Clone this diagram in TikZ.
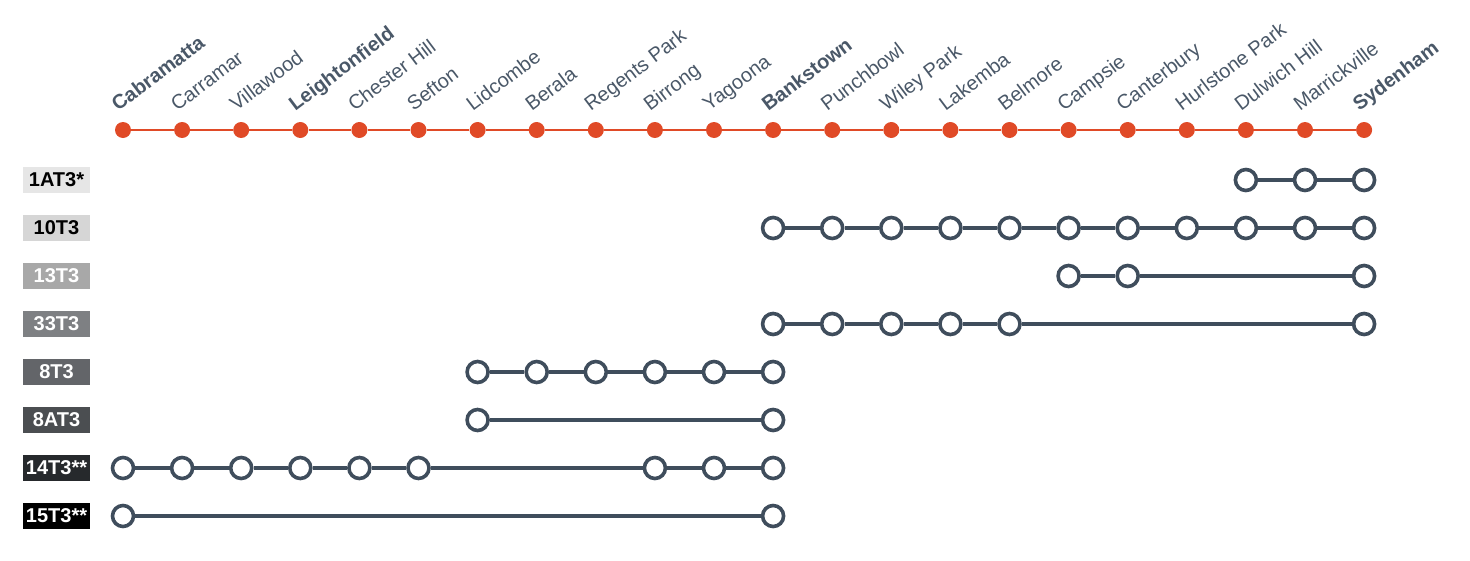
\documentclass[tikz,border=0pt]{standalone}
\usepackage{fontspec}
\setmainfont{Liberation Sans}
\definecolor{lineorange}{HTML}{E04A27}
\definecolor{slate}{HTML}{3F4D5C}
\definecolor{labslate}{HTML}{4A5868}
\definecolor{c1}{HTML}{E6E6E6}
\definecolor{c2}{HTML}{D6D6D6}
\definecolor{c3}{HTML}{A8A8A8}
\definecolor{c4}{HTML}{7E8083}
\definecolor{c5}{HTML}{636569}
\definecolor{c6}{HTML}{4B4E51}
\definecolor{c7}{HTML}{26292C}
\definecolor{c8}{HTML}{000000}
\begin{document}
\begin{tikzpicture}[x=1pt,y=-1pt,
  dotnode/.style={circle,fill=lineorange,inner sep=0pt,minimum size=16pt},
  topline/.style={draw=lineorange,line width=2.5pt},
  stationlabel/.style={anchor=base west,rotate=37,inner sep=0pt,text=labslate,font=\fontsize{20}{24}\selectfont},
  stopnode/.style={circle,draw=slate,line width=3.6pt,fill=white,inner sep=0pt,minimum size=21pt},
  routeline/.style={draw=slate,line width=3.6pt},
  routelabel/.style={inner sep=0pt,minimum width=67pt,minimum height=26pt,font=\bfseries\fontsize{20}{24}\selectfont}
]
\useasboundingbox (0,0) rectangle (1470,560);
% stations
\foreach \i/\n/\f in {0/Cabramatta/\bfseries,1/Carramar/\relax,2/Villawood/\relax,3/Leightonfield/\bfseries,4/Chester Hill/\relax,5/Sefton/\relax,6/Lidcombe/\relax,7/Berala/\relax,8/Regents Park/\relax,9/Birrong/\relax,10/Yagoona/\relax,11/Bankstown/\bfseries,12/Punchbowl/\relax,13/Wiley Park/\relax,14/Lakemba/\relax,15/Belmore/\relax,16/Campsie/\relax,17/Canterbury/\relax,18/Hurlstone Park/\relax,19/Dulwich Hill/\relax,20/Marrickville/\relax,21/Sydenham/\bfseries}{
  \node[dotnode] (d\i) at ({123+59.1*\i},130) {};
  \node[stationlabel] (t\i) at ({123+59.1*\i-5},112) {\f\n};
}
\foreach \i [remember=\i as \p (initially 0)] in {1,...,21}{
  \draw[topline] (d\p) -- (d\i);
}
% route labels
\foreach \r/\lab/\bg/\fg in {1/1AT3*/c1/black,2/10T3/c2/black,3/13T3/c3/white,4/33T3/c4/white,5/8T3/c5/white,6/8AT3/c6/white,7/14T3**/c7/white,8/15T3**/c8/white}{
  \node[routelabel,fill=\bg,text=\fg] (lab\r) at (56.5,{180+48*(\r-1)}) {\lab};
}
% routes
\foreach \r/\stops in {1/{19,20,21},2/{11,12,13,14,15,16,17,18,19,20,21},3/{16,17,21},4/{11,12,13,14,15,21},5/{6,7,8,9,10,11},6/{6,11},7/{0,1,2,3,4,5,9,10,11},8/{0,11}}{
  \foreach \s in \stops {
    \node[stopnode] (r\r-\s) at ({123+59.1*\s},{180+48*(\r-1)}) {};
  }
  \foreach \s [remember=\s as \p (initially -1)] in \stops {
    \ifnum\p>-1 \draw[routeline] (r\r-\p) -- (r\r-\s);\fi
  }
}
\end{tikzpicture}
\end{document}
